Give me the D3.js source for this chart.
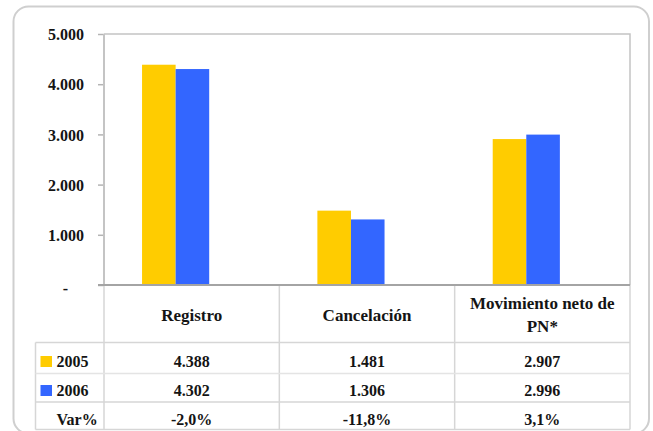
<!DOCTYPE html>
<html><head><meta charset="utf-8">
<script src="https://cdn.jsdelivr.net/npm/d3@7"></script>
<style>
body{margin:0;background:#fff}
svg{display:block}
svg text{font-family:'Liberation Serif','Tinos','DejaVu Serif',serif;font-weight:bold;fill:#141414}
</style>
</head><body><svg id="c" width="653" height="431"></svg>
<script>
// ---- data ----
const categories = ["Registro", "Cancelación", "Movimiento neto de PN*"];
const categoryLines = [["Registro"], ["Cancelación"], ["Movimiento neto de", "PN*"]];
const seriesNames = ["2005", "2006"];
const values2005 = [4388, 1481, 2907];
const values2006 = [4302, 1306, 2996];
const labels2005 = ["4.388", "1.481", "2.907"];
const labels2006 = ["4.302", "1.306", "2.996"];
const varName = "Var%";
const varLabels = ["-2,0%", "-11,8%", "3,1%"];
const yTicks = [0, 1000, 2000, 3000, 4000, 5000];
const yTickLabels = ["-", "1.000", "2.000", "3.000", "4.000", "5.000"];
const colors = ["#FFCC00", "#3366FF"];

const seriesValues = [values2005, values2006];
const seriesLabels = [labels2005, labels2006];

// ---- layout ----
const plot = {left: 104, right: 630, top: 34, bottom: 285};
const legendLeft = 35.5;
const rowEdges = [285, 342.5, 373.5, 402, 429.5];
const FONT = "'Liberation Serif','Tinos','DejaVu Serif',serif";

const svg = d3.select("#c");

svg.append("rect")
  .attr("x", 13.5).attr("y", 6.5).attr("width", 635.5).attr("height", 427)
  .attr("rx", 15).attr("fill", "none").attr("stroke", "#cfcfcf").attr("stroke-width", 2);

const x0 = d3.scaleBand().domain(categories).range([plot.left, plot.right]);
const bw = x0.bandwidth();
const x1 = d3.scaleBand().domain(seriesNames).range([bw * 0.217, bw * 0.217 + bw * 0.383]);
const y = d3.scaleLinear().domain([0, 5000]).range([plot.bottom, plot.top]);

svg.append("path")
  .attr("d", `M${plot.left},${plot.top}H${plot.right}V${plot.bottom}`)
  .attr("fill", "none").attr("stroke", "#c4c4c4").attr("stroke-width", 1.5);

const g = svg.append("g");
categories.forEach((c, ci) => {
  seriesNames.forEach((s, si) => {
    const v = seriesValues[si][ci];
    g.append("rect")
      .attr("x", x0(c) + x1(s))
      .attr("width", x1.bandwidth())
      .attr("y", y(v))
      .attr("height", y(0) - y(v))
      .attr("fill", colors[si]);
  });
});

const yAxis = d3.axisLeft(y)
  .tickValues(yTicks)
  .tickSize(6)
  .tickPadding(14)
  .tickFormat((d, i) => yTickLabels[i]);
const ga = svg.append("g").attr("transform", `translate(${plot.left},0)`).call(yAxis);
ga.attr("font-family", FONT).attr("font-size", 16);
ga.select(".domain").remove();
ga.selectAll(".tick line").attr("stroke", "#b4b4b4").attr("stroke-width", 1.5);
ga.selectAll(".tick text")
  .attr("font-size", 16).attr("dy", "0.36em")
  .attr("font-family", FONT)
  .attr("font-weight", "bold").attr("fill", "#141414")
  .filter(d => d === 0).attr("dx", -16).attr("dy", "0.5em");

const grid = svg.append("g").attr("fill", "none");
const vx = [plot.left].concat(categories.map(c => x0(c) + bw));
vx.forEach(vxp => {
  grid.append("line")
    .attr("x1", vxp).attr("x2", vxp)
    .attr("y1", plot.bottom).attr("y2", rowEdges[4])
    .attr("stroke", "#d6d6d6").attr("stroke-width", 1.5);
});
grid.append("line").attr("x1", legendLeft).attr("x2", legendLeft)
  .attr("y1", rowEdges[1]).attr("y2", rowEdges[4])
  .attr("stroke", "#d6d6d6").attr("stroke-width", 1.5);
[1, 2, 3, 4].forEach(k => {
  grid.append("line").attr("x1", legendLeft).attr("x2", plot.right)
    .attr("y1", rowEdges[k]).attr("y2", rowEdges[k])
    .attr("stroke", k === 2 ? "#e4e4e4" : "#d6d6d6").attr("stroke-width", 1.5);
});

svg.append("line").attr("x1", plot.left).attr("x2", plot.left)
  .attr("y1", plot.top).attr("y2", plot.bottom)
  .attr("stroke", "#c4c4c4").attr("stroke-width", 2);
svg.append("line").attr("x1", plot.left - 6).attr("x2", plot.right)
  .attr("y1", plot.bottom).attr("y2", plot.bottom)
  .attr("stroke", "#a4a4a4").attr("stroke-width", 2);

const t = svg.append("g").attr("font-family", FONT).attr("font-weight", "bold");
categories.forEach((c, ci) => {
  const lines = categoryLines[ci];
  const cx = x0(c) + bw / 2;
  const baselines = lines.length === 1 ? [320.5] : [309, 332];
  lines.forEach((ln, li) => {
    t.append("text").attr("x", cx).attr("y", baselines[li])
      .attr("text-anchor", "middle").attr("font-size", 17).text(ln);
  });
});

const rowBaselines = [366.5, 395.5, 424.5];
seriesNames.forEach((s, si) => {
  t.append("rect").attr("x", 40.5).attr("y", rowBaselines[si] - 10.5)
    .attr("width", 11.5).attr("height", 11).attr("fill", colors[si]);
  t.append("text").attr("x", 56.5).attr("y", rowBaselines[si])
    .attr("font-size", 16).text(s);
  categories.forEach((c, ci) => {
    t.append("text").attr("x", x0(c) + bw / 2).attr("y", rowBaselines[si])
      .attr("text-anchor", "middle").attr("font-size", 16).text(seriesLabels[si][ci]);
  });
});
t.append("text").attr("x", 56.5).attr("y", rowBaselines[2])
  .attr("font-size", 16).text(varName);
categories.forEach((c, ci) => {
  t.append("text").attr("x", x0(c) + bw / 2).attr("y", rowBaselines[2])
    .attr("text-anchor", "middle").attr("font-size", 16).text(varLabels[ci]);
});
</script>
</body></html>
